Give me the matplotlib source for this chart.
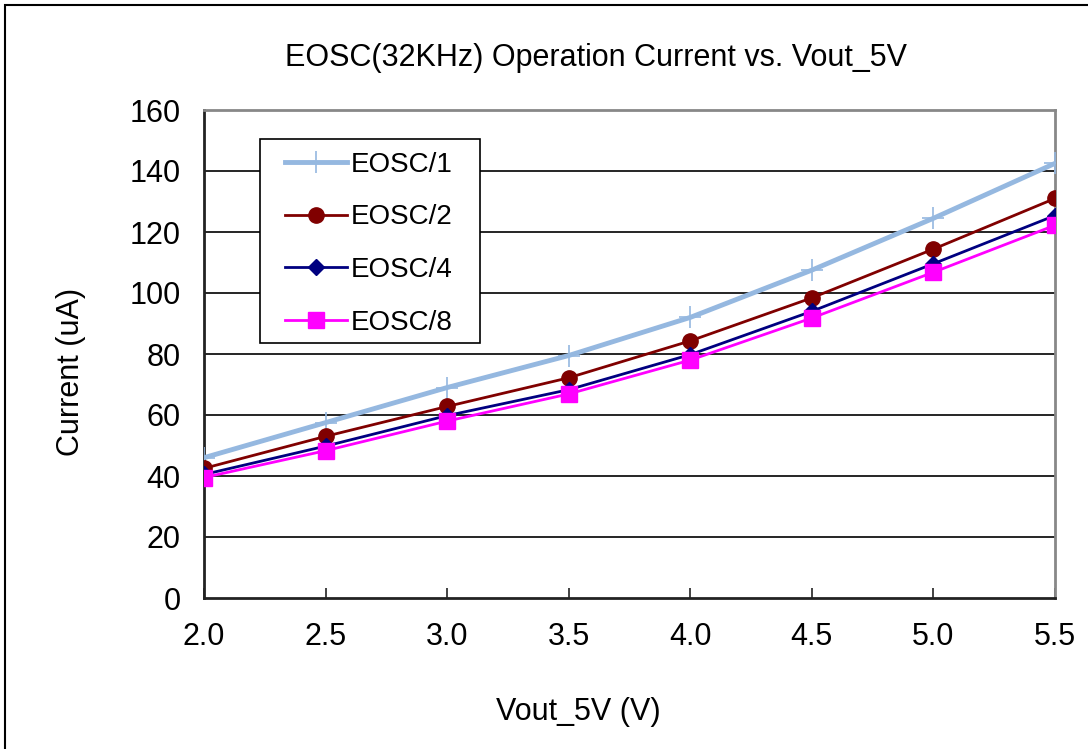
import matplotlib.pyplot as plt
from matplotlib.patches import Rectangle

plt.rcParams['font.family'] = ['Liberation Sans', 'DejaVu Sans']

vout = [2.0, 2.5, 3.0, 3.5, 4.0, 4.5, 5.0, 5.5]
eosc1 = [46.0, 57.5, 69.0, 79.5, 92.0, 107.5, 124.5, 142.5]
eosc2 = [42.5, 53.0, 62.8, 72.2, 84.3, 98.4, 114.4, 131.0]
eosc4 = [40.5, 49.8, 59.8, 68.3, 79.8, 94.0, 109.6, 125.4]
eosc8 = [39.5, 48.3, 58.0, 66.9, 78.0, 91.8, 106.8, 122.2]
yticks = [0, 20, 40, 60, 80, 100, 120, 140, 160]
xticks = [2.0, 2.5, 3.0, 3.5, 4.0, 4.5, 5.0, 5.5]

W, H = 1088, 749
fig = plt.figure(figsize=(W / 100, H / 100), dpi=100)
fig.patches.append(Rectangle((5 / W, -0.1), 1.2, 1.1 - 5 / H, transform=fig.transFigure,
                             fill=False, edgecolor='black', linewidth=1.5, figure=fig))

ax = fig.add_axes([204 / W, 1 - 598 / H, (1055 - 204) / W, (598 - 110) / H])

ax.plot(vout, eosc1, color='#95B8E0', linewidth=3.5, marker='+', markersize=16,
        markeredgewidth=1.2, label='EOSC/1', zorder=3)
ax.plot(vout, eosc2, color='#800000', linewidth=2, marker='o', markersize=11,
        label='EOSC/2', zorder=4)
ax.plot(vout, eosc4, color='#000080', linewidth=2, marker='D', markersize=8,
        label='EOSC/4', zorder=5)
ax.plot(vout, eosc8, color='#FF00FF', linewidth=2, marker='s', markersize=11,
        label='EOSC/8', zorder=6)

ax.set_xlim(2.0, 5.5)
ax.set_ylim(0, 160)
ax.set_xticks(xticks)
ax.set_xticklabels([f'{v:.1f}' for v in xticks])
ax.set_yticks(yticks)
ax.tick_params(axis='both', labelsize=22, direction='in', length=7, width=1.2,
               colors='#222222', labelcolor='black')
ax.tick_params(axis='x', pad=17)
ax.tick_params(axis='y', pad=17, length=0)
for y in yticks[1:-1]:
    ax.axhline(y, color='black', linewidth=1.2, zorder=1)

ax.spines['left'].set_color('#222222')
ax.spines['bottom'].set_color('#222222')
ax.spines['top'].set_color('#888888')
ax.spines['right'].set_color('#888888')
for s in ax.spines.values():
    s.set_linewidth(2)

fig.text(596 / W, 1 - 58 / H, 'EOSC(32KHz) Operation Current vs. Vout_5V',
         fontsize=22, ha='center', va='center')
fig.text(578 / W, 1 - 712 / H, 'Vout_5V (V)', fontsize=22, ha='center', va='center')
fig.text(71 / W, 1 - 372 / H, 'Current (uA)', fontsize=22, ha='center', va='center',
         rotation=90)

# legend box drawn separately so its padding can differ from the row spacing
legend_frame = Rectangle((260 / W, 1 - 343 / H), 220 / W, 204 / H, transform=fig.transFigure,
                         facecolor='white', edgecolor='black', linewidth=1.2, zorder=7)
ax.add_artist(legend_frame)
legend_frame.set_clip_on(False)

leg = ax.legend(loc='upper left', bbox_to_anchor=(285 / W, 1 - 151.5 / H),
                bbox_transform=fig.transFigure, fontsize=20, frameon=False,
                handlelength=2.23, handletextpad=0.15, borderpad=0,
                labelspacing=0.965, borderaxespad=0)
leg.set_zorder(8)

fig.savefig('out.png', dpi=100, facecolor='white')
